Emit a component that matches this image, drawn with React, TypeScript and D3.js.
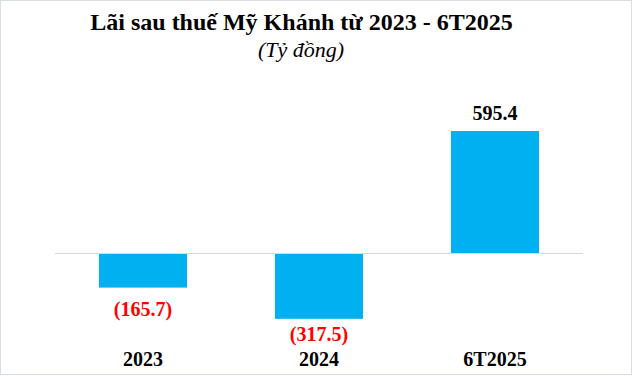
import React from "react";
import * as d3 from "d3";

const categories = ["2023", "2024", "6T2025"];
const values = [-165.7, -317.5, 595.4];
const valueLabels = ["(165.7)", "(317.5)", "595.4"];
const title = "Lãi sau thuế Mỹ Khánh từ 2023 - 6T2025";
const subtitle = "(Tỷ đồng)";

const W = 633;
const H = 376;

export default function App() {
  const x = d3.scaleBand<string>().domain(categories).range([55, 583]).paddingInner(0.5).paddingOuter(0.25);
  const y = d3.scaleLinear().domain([0, 595.4]).range([253.5, 131]);
  const font = "Liberation Serif, Times New Roman, Times, serif";
  return (
    <svg width={W} height={H} style={{ position: "absolute", left: 0, top: 0, fontFamily: font }}>
      <rect x={0.5} y={0.5} width={W - 2} height={H - 2} fill="#fff" stroke="#d9dde4" />
      <text x={301.5} y={30} textAnchor="middle" fontWeight="bold" fontSize={24} fill="#000" style={{ fontFamily: font }}>{title}</text>
      <text x={301} y={57} textAnchor="middle" fontStyle="italic" fontSize={22} fill="#000" style={{ fontFamily: font }}>{subtitle}</text>
      {values.map((v, i) => {
        const c = categories[i];
        const y0 = y(0);
        const yv = y(v);
        return (
          <rect key={c} x={x(c)} y={Math.min(y0, yv)} width={x.bandwidth()} height={Math.abs(yv - y0)} fill="#00b0f0" />
        );
      })}
      <line x1={55} x2={583} y1={y(0)} y2={y(0)} stroke="#d9d9d9" strokeWidth={1} />
      {values.map((v, i) => {
        const c = categories[i];
        const cx = (x(c) as number) + x.bandwidth() / 2;
        const ly = v < 0 ? Math.min(y(v) + 28, 341) : y(v) - 11;
        return (
          <text key={c} x={cx} y={ly} textAnchor="middle" fontWeight="bold" fontSize={20} fill={v < 0 ? "#ff0000" : "#000"} style={{ fontFamily: font }}>
            {valueLabels[i]}
          </text>
        );
      })}
      {categories.map((c) => (
        <text key={c} x={(x(c) as number) + x.bandwidth() / 2} y={366} textAnchor="middle" fontWeight="bold" fontSize={20} fill="#000" style={{ fontFamily: font }}>
          {c}
        </text>
      ))}
    </svg>
  );
}
